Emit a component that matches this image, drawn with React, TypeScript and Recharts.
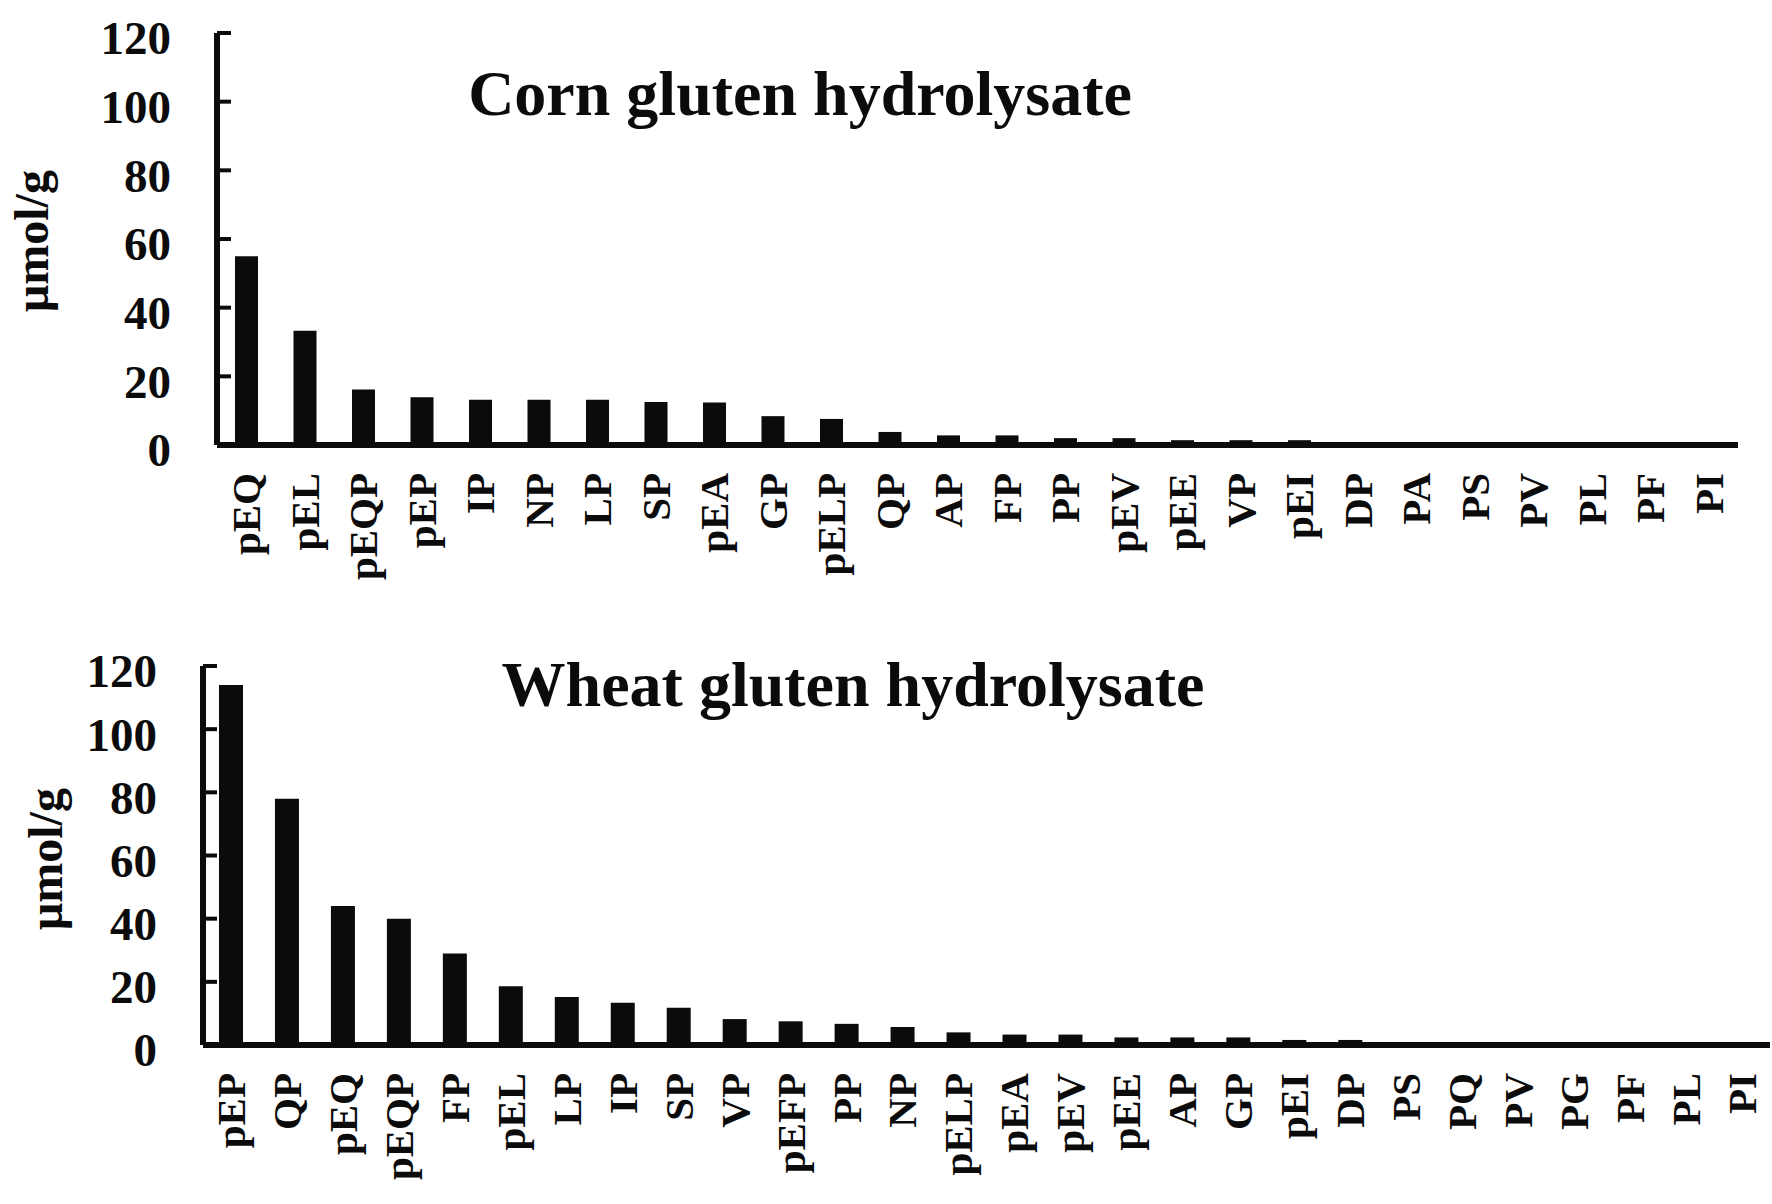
import { BarChart, Bar, XAxis, YAxis } from 'recharts';

// ── data (µmol/g) ──────────────────────────────────────────────────────────
const CORN_CATEGORIES = ['pEQ', 'pEL', 'pEQP', 'pEP', 'IP', 'NP', 'LP', 'SP', 'pEA', 'GP', 'pELP', 'QP', 'AP', 'FP', 'PP', 'pEV', 'pEE', 'VP', 'pEI', 'DP', 'PA', 'PS', 'PV', 'PL', 'PF', 'PI'];
const CORN_VALUES = [55, 33.3, 16.2, 13.9, 13.2, 13.2, 13.2, 12.5, 12.4, 8.4, 7.6, 3.8, 2.8, 2.8, 2, 2, 1.4, 1.4, 1.4, 0.3, 0.3, 0.3, 0.3, 0.3, 0.3, 0.3];

const WHEAT_CATEGORIES = ['pEP', 'QP', 'pEQ', 'pEQP', 'FP', 'pEL', 'LP', 'IP', 'SP', 'VP', 'pEFP', 'PP', 'NP', 'pELP', 'pEA', 'pEV', 'pEE', 'AP', 'GP', 'pEI', 'DP', 'PS', 'PQ', 'PV', 'PG', 'PF', 'PL', 'PI'];
const WHEAT_VALUES = [114, 78, 44, 40, 29, 18.6, 15.2, 13.4, 11.8, 8.2, 7.5, 6.7, 5.7, 4, 3.3, 3.3, 2.4, 2.4, 2.4, 1.6, 1.6, 0.6, 0.6, 0.6, 0.6, 0.6, 0.6, 0.6];

const Y_TICKS = [0, 20, 40, 60, 80, 100, 120];

const FONT = '"Liberation Serif", "Times New Roman", serif';
const INK = '#0b0b0b';

const cornData = CORN_CATEGORIES.map((name, i) => ({ name, value: CORN_VALUES[i] }));
const wheatData = WHEAT_CATEGORIES.map((name, i) => ({ name, value: WHEAT_VALUES[i] }));

// y tick: tick mark points inward (into the plot), label sits left of axis
function YTick({ x, y, payload }: any) {
  return (
    <g>
      <line x1={x} x2={x + 14} y1={y} y2={y} stroke={INK} strokeWidth={4} />
      <text x={x - 46} y={y + 5} dy="0.35em" textAnchor="end" fontFamily={FONT} fontWeight="bold" fontSize={47} fill={INK}>
        {payload.value}
      </text>
    </g>
  );
}

// x tick: vertical label reading bottom-to-top, end aligned just under the axis
function XTick({ x, y, payload }: any) {
  const ty = y + 28;
  return (
    <text x={x} y={ty} dy="0.34em" textAnchor="end" transform={`rotate(-90, ${x}, ${ty})`} fontFamily={FONT} fontWeight="bold" fontSize={41} fill={INK}>
      {payload.value}
    </text>
  );
}

function Panel({ data, height, top, yWidth, right, barSize }: { data: Array<{ name: string; value: number }>; height: number; top: number; yWidth: number; right: number; barSize: number }) {
  const bottom = 155;
  return (
    <BarChart width={1772} height={height} data={data} margin={{ top, right, bottom: 0, left: 0 }}>
      <XAxis dataKey="name" interval={0} height={bottom} tickLine={false} tickSize={0} tickMargin={0} axisLine={{ stroke: INK, strokeWidth: 6 }} tick={<XTick />} />
      <YAxis domain={[0, 120]} ticks={Y_TICKS} width={yWidth} tickLine={false} tickSize={0} tickMargin={0} axisLine={{ stroke: INK, strokeWidth: 6 }} tick={<YTick />} />
      <Bar dataKey="value" fill={INK} barSize={barSize} isAnimationActive={false} />
    </BarChart>
  );
}

export default function App() {
  return (
    <div style={{ position: 'absolute', left: 0, top: 0, width: 1772, height: 1204, background: '#fff', overflow: 'hidden' }}>
      <div style={{ position: 'absolute', left: 0, top: 0 }}>
        {/* plot: top 33 → baseline 445 */}
        <Panel data={cornData} height={600} top={33} yWidth={217} right={34} barSize={23} />
      </div>
      <div style={{ position: 'absolute', left: 0, top: 600 }}>
        {/* plot: top 666 → baseline 1045 */}
        <Panel data={wheatData} height={600} top={66} yWidth={203} right={2} barSize={24} />
      </div>
      <svg width={1772} height={1204} style={{ position: 'absolute', left: 0, top: 0, pointerEvents: 'none' }}>
        <g fontFamily={FONT} fontWeight="bold" fill={INK}>
          <text x={800} y={115} fontSize={64} textAnchor="middle">Corn gluten hydrolysate</text>
          <text x={853} y={706} fontSize={64} textAnchor="middle">Wheat gluten hydrolysate</text>
          <text x={48} y={241} fontSize={48} textAnchor="middle" transform="rotate(-90, 48, 241)">μmol/g</text>
          <text x={62} y={859} fontSize={48} textAnchor="middle" transform="rotate(-90, 62, 859)">μmol/g</text>
        </g>
      </svg>
    </div>
  );
}
